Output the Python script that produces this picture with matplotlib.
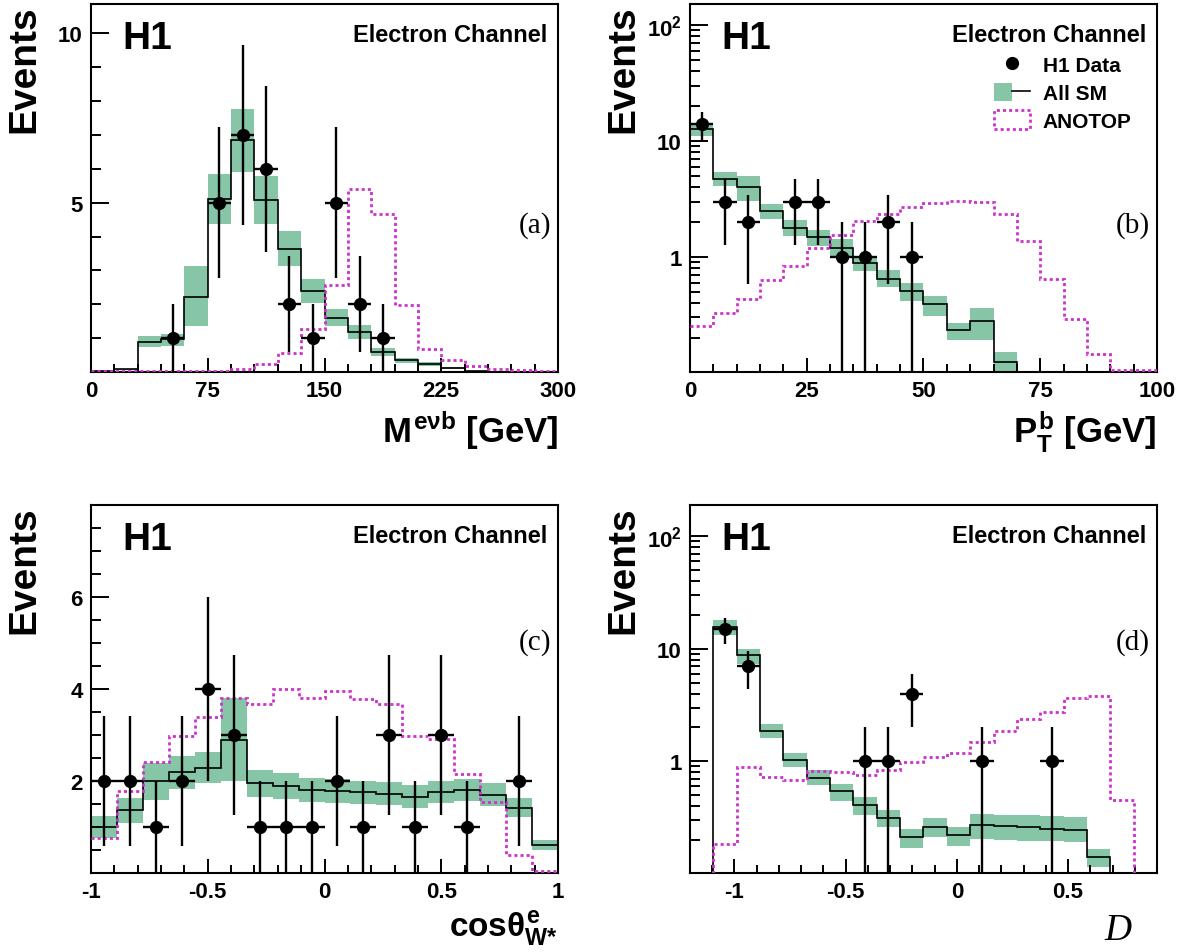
import numpy as np
import matplotlib
matplotlib.use("Agg")
import matplotlib.pyplot as plt
from matplotlib.ticker import MultipleLocator, LogLocator, NullFormatter
from matplotlib.lines import Line2D
from matplotlib.patches import Patch
from matplotlib.legend_handler import HandlerTuple

plt.rcParams["font.family"] = ["Liberation Sans", "DejaVu Sans"]
plt.rcParams["font.weight"] = "bold"
plt.rcParams["mathtext.fontset"] = "custom"
plt.rcParams["mathtext.rm"] = "Liberation Sans:bold"
plt.rcParams["mathtext.it"] = "Liberation Sans:bold"
plt.rcParams["mathtext.bf"] = "Liberation Sans:bold"
plt.rcParams["mathtext.sf"] = "Liberation Sans:bold"

GREEN = "#86c5a5"
MAGENTA = "#cc33cc"

# (a) M_evb, 20 bins 0-300 GeV
edges_a = np.linspace(0, 300, 21)
sm_a = [0.03, 0.08, 0.9, 0.96, 2.22, 5.1, 6.84, 5.07, 3.64, 2.38,
        1.6, 1.19, 0.6, 0.34, 0.23, 0.11, 0.03, 0.01, 0.01, 0.01]
sm_a_lo = [0.02, 0.06, 0.74, 0.77, 1.36, 4.36, 5.9, 4.36, 3.13, 2.05,
           1.36, 0.98, 0.47, 0.27, 0.17, 0.08, 0.02, 0.0, 0.0, 0.0]
sm_a_hi = [0.04, 0.1, 1.06, 1.13, 3.13, 5.84, 7.78, 5.79, 4.16, 2.74,
           1.85, 1.38, 0.72, 0.41, 0.29, 0.14, 0.04, 0.02, 0.02, 0.02]
ano_a = [0.02, 0.02, 0.02, 0.02, 0.02, 0.02, 0.1, 0.25, 0.55, 1.28,
         2.56, 5.42, 4.68, 1.98, 0.69, 0.34, 0.18, 0.08, 0.06, 0.03]
data_a = [0, 0, 0, 1, 0, 5, 7, 6, 2, 1, 5, 2, 1, 0, 0, 0, 0, 0, 0, 0]

# (b) P_T^b, 20 bins 0-100 GeV
edges_b = np.linspace(0, 100, 21)
sm_b = [12.6, 4.68, 4.02, 2.48, 1.78, 1.49, 1.2, 0.89, 0.65, 0.51,
        0.39, 0.233, 0.277, 0.125, 0, 0, 0, 0, 0, 0]
sm_b_lo = [11.1, 4.05, 3.04, 2.11, 1.52, 1.24, 1.0, 0.757, 0.544, 0.417,
           0.31, 0.192, 0.192, 0.1, 0, 0, 0, 0, 0, 0]
sm_b_hi = [14.3, 5.35, 5.0, 2.87, 2.06, 1.71, 1.44, 1.02, 0.77, 0.6,
           0.46, 0.271, 0.36, 0.152, 0, 0, 0, 0, 0, 0]
ano_b = [0.254, 0.33, 0.436, 0.63, 0.836, 1.2, 1.54, 2.02, 2.33, 2.67,
         2.89, 3.04, 2.98, 2.33, 1.36, 0.65, 0.29, 0.146, 0.105, 0.105]
data_b = [14, 3, 2, 0, 3, 3, 1, 1, 2, 1, 0, 0, 0, 0, 0, 0, 0, 0, 0, 0]

# (c) cos theta, 18 bins -1..1
edges_c = np.linspace(-1, 1, 19)
sm_c = [1.0, 1.36, 1.99, 2.19, 2.29, 2.89, 1.95, 1.89, 1.8, 1.78,
        1.75, 1.72, 1.66, 1.75, 1.8, 1.7, 1.41, 0.6]
sm_c_lo = [0.76, 1.08, 1.59, 1.83, 1.95, 1.99, 1.66, 1.61, 1.55, 1.53,
           1.5, 1.48, 1.42, 1.52, 1.57, 1.46, 1.21, 0.49]
sm_c_hi = [1.23, 1.63, 2.38, 2.53, 2.63, 3.79, 2.24, 2.17, 2.06, 2.04,
           2.0, 1.98, 1.92, 2.0, 2.04, 1.95, 1.63, 0.72]
ano_c = [0.76, 1.77, 2.42, 2.97, 3.39, 3.79, 3.66, 4.0, 3.79, 3.95,
         3.77, 3.67, 2.97, 2.91, 2.15, 1.55, 0.4, 0.04]
data_c = [2, 2, 1, 2, 4, 3, 1, 1, 1, 2, 1, 3, 1, 3, 1, 0, 2, 0]

# (d) discriminant D, 20 bins -1.2..0.9
edges_d = np.linspace(-1.2, 0.9, 21)
sm_d = [0, 15.5, 8.75, 1.87, 1.03, 0.716, 0.541, 0.406, 0.316, 0.212,
        0.26, 0.22, 0.27, 0.263, 0.259, 0.252, 0.247, 0.14, 0, 0]
sm_d_lo = [0, 13.2, 7.38, 1.61, 0.89, 0.61, 0.44, 0.331, 0.26, 0.17,
           0.212, 0.175, 0.205, 0.198, 0.196, 0.195, 0.193, 0.115, 0, 0]
sm_d_hi = [0, 17.9, 10.0, 2.16, 1.19, 0.83, 0.633, 0.482, 0.367, 0.252,
           0.313, 0.26, 0.343, 0.335, 0.33, 0.325, 0.32, 0.167, 0, 0]
ano_d = [0, 0.183, 0.885, 0.726, 0.687, 0.826, 0.804, 0.751, 0.843, 0.986,
         1.09, 1.19, 1.49, 1.85, 2.36, 2.75, 3.66, 3.78, 0.456, 0]
data_d = [0, 15, 7, 0, 0, 0, 0, 1, 1, 4, 0, 0, 1, 0, 0, 1, 0, 0, 0, 0]


def draw_panel(ax, edges, sm, sm_lo, sm_hi, ano, data, log=False):
    edges = np.asarray(edges)
    centers = 0.5 * (edges[1:] + edges[:-1])
    widths = np.diff(edges)
    sm = np.asarray(sm, float)
    lo = np.asarray(sm_lo, float)
    hi = np.asarray(sm_hi, float)
    floor = 1e-3 if log else 0.0

    keep = hi > lo
    ax.bar(centers[keep], (hi - lo)[keep], bottom=lo[keep], width=widths[keep],
           color=GREEN, linewidth=0, zorder=1)
    ax.stairs(np.maximum(sm, floor), edges, baseline=None, color="black",
              linewidth=1.2, zorder=2)
    ax.stairs(np.maximum(np.asarray(ano, float), floor), edges, baseline=None,
              color=MAGENTA, linewidth=2.0, linestyle=(0, (1.1, 1.1)), zorder=3)

    n = np.asarray(data, float)
    m = n > 0
    err = np.sqrt(n)
    low = n - err
    if log:
        low = np.where(low <= 0, floor, low)
    else:
        low = np.maximum(low, 0)
    ax.errorbar(centers[m], n[m], yerr=[(n - low)[m], err[m]],
                xerr=widths[m] / 2, fmt="o", color="black", markersize=8.5,
                elinewidth=1.7, capsize=0, zorder=4)

    ax.tick_params(which="both", direction="in", top=False, right=False,
                   labelsize=16, pad=6, width=1.4)
    ax.tick_params(axis="y", which="major", length=13)
    ax.tick_params(axis="y", which="minor", length=7)
    ax.tick_params(axis="x", which="major", length=10)
    ax.tick_params(axis="x", which="minor", length=6)
    for s in ax.spines.values():
        s.set_linewidth(1.5)
    if log:
        ax.set_yscale("log")
        ax.set_yticks([1, 10, 100], ["1", "10", r"$10^{2}$"])
        ax.yaxis.set_minor_locator(LogLocator(base=10, subs=np.arange(2, 10)))
        ax.yaxis.set_minor_formatter(NullFormatter())


def decorate(ax, tag, tag_y, xlabel, xlabel_y, xlabel_size=25):
    ax.text(0.068, 0.88, "H1", transform=ax.transAxes, fontsize=28,
            fontweight="bold", ha="left", va="baseline")
    ax.text(0.976, 0.9, "Electron Channel", transform=ax.transAxes,
            fontsize=17, fontweight="bold", ha="right", va="baseline")
    ax.text(0.985, tag_y, tag, transform=ax.transAxes, fontsize=21,
            family="Liberation Serif", fontweight="normal", ha="right",
            va="center")
    ax.text(-0.143, 1.0, "Events", transform=ax.transAxes, rotation=90,
            fontsize=28, fontweight="bold", ha="center", va="top")
    if xlabel is not None:
        ax.text(1.0, xlabel_y, xlabel, transform=ax.transAxes,
                fontsize=xlabel_size, fontweight="bold", ha="right",
                va="baseline")


fig = plt.figure(figsize=(11.81, 9.53), dpi=100)
W, H = 1181, 953


def make_axes(left, top, right, bottom):
    return fig.add_axes([left / W, 1 - bottom / H, (right - left) / W,
                         (bottom - top) / H])


ax_a = make_axes(91, 5, 558, 373)
ax_b = make_axes(690, 5, 1157, 373)
ax_c = make_axes(91, 506, 558, 874)
ax_d = make_axes(690, 506, 1157, 874)

# (a)
draw_panel(ax_a, edges_a, sm_a, sm_a_lo, sm_a_hi, ano_a, data_a)
ax_a.set_xlim(0, 300)
ax_a.set_ylim(0, 10.87)
ax_a.xaxis.set_major_locator(MultipleLocator(75))
ax_a.xaxis.set_minor_locator(MultipleLocator(15))
ax_a.set_yticks([5, 10])
ax_a.yaxis.set_minor_locator(MultipleLocator(1))
decorate(ax_a, "(a)", 0.40, r"$M^{e\nu b}$ [GeV]", -0.19)

# (b)
draw_panel(ax_b, edges_b, sm_b, sm_b_lo, sm_b_hi, ano_b, data_b, log=True)
ax_b.set_xlim(0, 100)
ax_b.set_ylim(0.1015, 152)
ax_b.xaxis.set_major_locator(MultipleLocator(25))
ax_b.xaxis.set_minor_locator(MultipleLocator(5))
decorate(ax_b, "(b)", 0.40, r"$P_{T}^{b}$ [GeV]", -0.19)

h_data = Line2D([], [], marker="o", color="black", linestyle="none",
                markersize=8.5)
h_sm = (Patch(facecolor=GREEN, edgecolor="none"),
        Line2D([], [], color="black", linewidth=1.2))
h_ano = Patch(facecolor="none", edgecolor=MAGENTA, linewidth=2.0,
              linestyle=(0, (1.1, 1.1)))
ax_b.legend([h_data, h_sm, h_ano], ["H1 Data", "All SM", "ANOTOP"],
            handler_map={tuple: HandlerTuple(ndivide=None, pad=0)},
            loc="upper left", bbox_to_anchor=(0.651, 0.862), frameon=False,
            borderpad=0, borderaxespad=0, handlelength=1.75,
            handleheight=1.0, handletextpad=0.6, labelspacing=0.35,
            prop={"weight": "bold", "size": 15})

# (c)
draw_panel(ax_c, edges_c, sm_c, sm_c_lo, sm_c_hi, ano_c, data_c)
ax_c.set_xlim(-1, 1)
ax_c.set_ylim(0, 7.99)
ax_c.set_xticks([-1, -0.5, 0, 0.5, 1], ["-1", "-0.5", "0", "0.5", "1"])
ax_c.xaxis.set_minor_locator(MultipleLocator(0.1))
ax_c.set_yticks([2, 4, 6])
ax_c.yaxis.set_minor_locator(MultipleLocator(0.5))
decorate(ax_c, "(c)", 0.63, r"$cos\theta^{e}_{W{*}}$", -0.17, xlabel_size=24)

# (d)
draw_panel(ax_d, edges_d, sm_d, sm_d_lo, sm_d_hi, ano_d, data_d, log=True)
ax_d.set_xlim(-1.2, 0.9)
ax_d.set_ylim(0.1015, 190)
ax_d.set_xticks([-1, -0.5, 0, 0.5], ["-1", "-0.5", "0", "0.5"])
ax_d.xaxis.set_minor_locator(MultipleLocator(0.1))
decorate(ax_d, "(d)", 0.63, None, None)
ax_d.text(0.946, -0.18, "D", transform=ax_d.transAxes, fontsize=27,
          family="Liberation Serif", style="italic", fontweight="normal",
          ha="right", va="baseline")

fig.savefig("out.png", dpi=100)
